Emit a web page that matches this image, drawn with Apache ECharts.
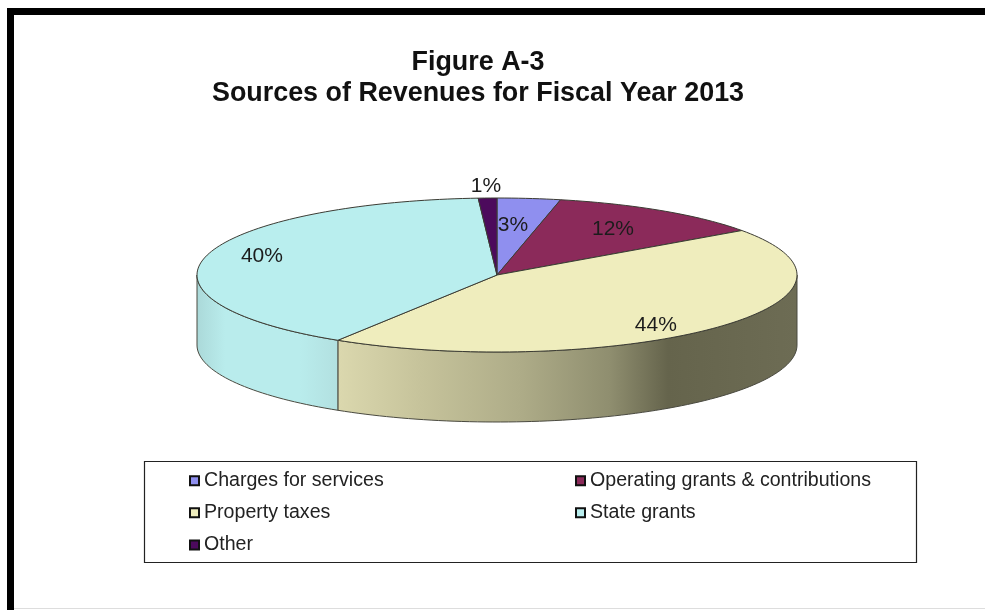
<!DOCTYPE html>
<html><head><meta charset="utf-8">
<style>html,body{margin:0;padding:0;background:#fff}#c{width:985px;height:610px}</style>
<script src="https://cdn.jsdelivr.net/npm/echarts@6/dist/echarts.min.js"></script>
</head><body><div id="c"></div>
<script>
const categories = ['Charges for services','Operating grants & contributions','Property taxes','State grants','Other'];
const values = [3.4, 11.8, 43.7, 40.1, 1.0];
const colors = ['#8f8fef','#8b2a5a','#efedbd','#b9eeee','#4c0a5c'];
const titleLines = ['Figure A-3','Sources of Revenues for Fiscal Year 2013'];

const FONT = '"Liberation Sans", Arial, sans-serif';
const cx = 497, cy = 275, rx = 300, ry = 77, depth = 70;
const labelPlace = [[0.66,-1.5],[0.72,-1],[0.83,7],[0.825,4],[1.17,0]];
const total = values.reduce((a,b)=>a+b,0);
const starts = values.map((_,i)=>values.slice(0,i).reduce((a,b)=>a+b,0)/total*360);
const pt = (deg,r,dy) => { const t = deg*Math.PI/180;
  return [cx + rx*r*Math.sin(t), cy - ry*r*Math.cos(t) + (dy||0)]; };
const arc = (a,b,dy) => { const n = Math.max(2,Math.ceil(Math.abs(b-a)/1.5)), out=[];
  for(let k=0;k<=n;k++) out.push(pt(a+(b-a)*k/n,1,dy)); return out; };
const sideFill = i => {
  const G = echarts.graphic.LinearGradient;
  const sx = p => (p-197)/600;
  if(i===2) return new G(cx-rx,0,cx+rx,0,[
    {offset:sx(338),color:'#dbd8ae'},{offset:sx(420),color:'#c6c39b'},{offset:sx(520),color:'#aeac88'},
    {offset:sx(610),color:'#8f8e6f'},{offset:sx(668),color:'#65644c'},{offset:1,color:'#6d6c54'}],true);
  if(i===3) return new G(cx-rx,0,cx+rx,0,[
    {offset:0,color:'#abd9d9'},{offset:sx(225),color:'#b9ecec'},{offset:sx(300),color:'#b9ecec'},{offset:sx(338),color:'#b2e0e0'},{offset:1,color:'#b2e0e0'}],true);
  return colors[i];
};
const makeRender = i => (params, api) => {
  const v = api.value(0);
  const a = starts[i], b = a + v/total*360;
  const kids = [];
  const lo = Math.max(a,90), hi = Math.min(b,270);
  if(hi>lo){
    kids.push({type:'polygon',shape:{points:arc(lo,hi,0).concat(arc(hi,lo,depth))},
      style:{fill:sideFill(i),stroke:'#4a4a40',lineWidth:1}});
  }
  kids.push({type:'polygon',shape:{points:[[cx,cy]].concat(arc(a,b,0))},
    style:{fill:colors[i],stroke:'#3c3c34',lineWidth:1}});
  const lp = pt((a+b)/2+labelPlace[i][1],labelPlace[i][0]);
  kids.push({type:'text',z2:10,style:{text:Math.round(v)+'%',x:lp[0],y:lp[1]+1,align:'center',verticalAlign:'middle',
    fill:'#1c1c1c',font:'21px '+FONT}});
  return {type:'group',children:kids};
};
const legendBase = {orient:'vertical',icon:'rect',itemWidth:9,itemHeight:9,itemGap:10.6,
  selectedMode:false,padding:0,
  itemStyle:{borderColor:'#111',borderWidth:2},
  textStyle:{fontFamily:FONT,fontSize:19.6,color:'#222',lineHeight:21.5}};
const chart = echarts.init(document.getElementById('c'),null,{renderer:'canvas'});
chart.setOption({
  animation:false,
  backgroundColor:'#fff',
  title:{text:titleLines.join('\n'),left:478,top:47,textAlign:'center',padding:0,
    textStyle:{fontFamily:FONT,fontWeight:'bold',fontSize:26.9,lineHeight:31,color:'#111'}},
  legend:[
    Object.assign({},legendBase,{left:189,top:470,data:[categories[0],categories[2],categories[4]]}),
    Object.assign({},legendBase,{left:575,top:470,data:[categories[1],categories[3]]})
  ],
  graphic:[
    {type:'rect',shape:{x:7,y:8,width:978,height:7},style:{fill:'#000'}},
    {type:'rect',shape:{x:7,y:8,width:7,height:602},style:{fill:'#000'}},
    {type:'rect',shape:{x:14,y:608,width:971,height:1},style:{fill:'#dddddd'}},
    {type:'rect',shape:{x:144.5,y:461.5,width:772,height:101},style:{fill:'#fff',stroke:'#222',lineWidth:1.2}}
  ],
  series: categories.map((name,i)=>({
    type:'custom',name,coordinateSystem:'none',
    itemStyle:{color:colors[i]},
    data:[[values[i]]],
    renderItem:makeRender(i),silent:true
  }))
});
</script></body></html>
